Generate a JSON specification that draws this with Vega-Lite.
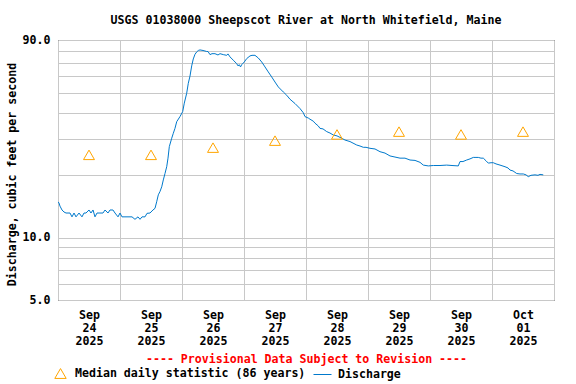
{
  "$schema": "https://vega.github.io/schema/vega-lite/v6.json",
  "width": 496,
  "height": 260,
  "autosize": {"type": "none"},
  "padding": {"left": 58, "top": 40, "right": 22, "bottom": 84},
  "background": "white",
  "title": {
    "text": "USGS 01038000 Sheepscot River at North Whitefield, Maine",
    "anchor": "middle",
    "font": "DejaVu Sans Mono",
    "fontSize": 11.6,
    "fontWeight": "bold",
    "color": "black",
    "offset": 7
  },
  "config": {
    "view": {"stroke": "black", "strokeWidth": 1},
    "axis": {
      "labelFont": "DejaVu Sans Mono",
      "labelFontSize": 11.6,
      "labelFontWeight": "bold",
      "labelColor": "black",
      "titleFont": "DejaVu Sans Mono",
      "titleFontSize": 11.6,
      "titleFontWeight": "bold",
      "titleColor": "black",
      "gridColor": "#c8c8c8",
      "gridWidth": 1,
      "ticks": false,
      "domain": false,
      "labelOverlap": false,
      "labelFlush": false
    },
    "legend": {
      "labelFont": "DejaVu Sans Mono",
      "labelFontSize": 11.6,
      "labelFontWeight": "bold",
      "labelColor": "black",
      "labelLimit": 400,
      "padding": 0
    }
  },
  "datasets": {
    "flow": [
      {"t":"2025-09-24T00:00Z","q":14.9},
      {"t":"2025-09-24T00:23Z","q":14.7},
      {"t":"2025-09-24T00:46Z","q":14.2},
      {"t":"2025-09-24T01:33Z","q":13.6},
      {"t":"2025-09-24T02:19Z","q":13.3},
      {"t":"2025-09-24T03:06Z","q":13.15},
      {"t":"2025-09-24T04:39Z","q":13.15},
      {"t":"2025-09-24T05:25Z","q":12.6},
      {"t":"2025-09-24T06:12Z","q":13.15},
      {"t":"2025-09-24T06:58Z","q":12.6},
      {"t":"2025-09-24T08:08Z","q":13.15},
      {"t":"2025-09-24T09:17Z","q":12.6},
      {"t":"2025-09-24T10:04Z","q":13.15},
      {"t":"2025-09-24T10:50Z","q":13.15},
      {"t":"2025-09-24T12:00Z","q":13.6},
      {"t":"2025-09-24T12:46Z","q":13.15},
      {"t":"2025-09-24T13:33Z","q":13.6},
      {"t":"2025-09-24T14:19Z","q":12.6},
      {"t":"2025-09-24T15:06Z","q":13.15},
      {"t":"2025-09-24T16:15Z","q":13.15},
      {"t":"2025-09-24T17:25Z","q":13.15},
      {"t":"2025-09-24T18:12Z","q":13.6},
      {"t":"2025-09-24T19:21Z","q":13.15},
      {"t":"2025-09-24T20:08Z","q":13.6},
      {"t":"2025-09-24T21:17Z","q":13.6},
      {"t":"2025-09-24T22:04Z","q":13.15},
      {"t":"2025-09-24T23:14Z","q":12.6},
      {"t":"2025-09-25T00:00Z","q":13.15},
      {"t":"2025-09-25T00:46Z","q":12.6},
      {"t":"2025-09-25T01:56Z","q":12.6},
      {"t":"2025-09-25T03:06Z","q":12.6},
      {"t":"2025-09-25T04:39Z","q":12.6},
      {"t":"2025-09-25T05:48Z","q":12.26},
      {"t":"2025-09-25T06:58Z","q":12.6},
      {"t":"2025-09-25T07:45Z","q":12.26},
      {"t":"2025-09-25T08:31Z","q":12.6},
      {"t":"2025-09-25T09:41Z","q":12.6},
      {"t":"2025-09-25T10:27Z","q":13.1},
      {"t":"2025-09-25T11:37Z","q":13.15},
      {"t":"2025-09-25T12:46Z","q":13.6},
      {"t":"2025-09-25T13:33Z","q":13.85},
      {"t":"2025-09-25T14:12Z","q":14.9},
      {"t":"2025-09-25T14:50Z","q":16.1},
      {"t":"2025-09-25T15:29Z","q":16.7},
      {"t":"2025-09-25T16:09Z","q":17.6},
      {"t":"2025-09-25T16:46Z","q":19.0},
      {"t":"2025-09-25T17:25Z","q":20.4},
      {"t":"2025-09-25T18:05Z","q":22.0},
      {"t":"2025-09-25T18:35Z","q":24.2},
      {"t":"2025-09-25T19:05Z","q":27.5},
      {"t":"2025-09-25T20:01Z","q":30.2},
      {"t":"2025-09-25T20:38Z","q":31.9},
      {"t":"2025-09-25T21:17Z","q":33.7},
      {"t":"2025-09-25T21:57Z","q":36.3},
      {"t":"2025-09-25T23:13Z","q":38.4},
      {"t":"2025-09-26T00:16Z","q":40.6},
      {"t":"2025-09-26T00:53Z","q":44.6},
      {"t":"2025-09-26T01:49Z","q":49.8},
      {"t":"2025-09-26T02:26Z","q":55.6},
      {"t":"2025-09-26T03:06Z","q":60.3},
      {"t":"2025-09-26T03:45Z","q":67.5},
      {"t":"2025-09-26T04:22Z","q":72.9},
      {"t":"2025-09-26T05:02Z","q":76.8},
      {"t":"2025-09-26T05:41Z","q":78.8},
      {"t":"2025-09-26T06:19Z","q":80.1},
      {"t":"2025-09-26T06:58Z","q":80.6},
      {"t":"2025-09-26T08:08Z","q":80.1},
      {"t":"2025-09-26T09:34Z","q":79.2},
      {"t":"2025-09-26T10:04Z","q":79.2},
      {"t":"2025-09-26T10:50Z","q":76.5},
      {"t":"2025-09-26T11:37Z","q":77.3},
      {"t":"2025-09-26T12:46Z","q":77.3},
      {"t":"2025-09-26T13:56Z","q":76.2},
      {"t":"2025-09-26T14:43Z","q":77.3},
      {"t":"2025-09-26T15:59Z","q":76.5},
      {"t":"2025-09-26T17:18Z","q":75.9},
      {"t":"2025-09-26T17:48Z","q":77.1},
      {"t":"2025-09-26T18:35Z","q":74.6},
      {"t":"2025-09-26T19:51Z","q":71.9},
      {"t":"2025-09-26T21:10Z","q":69.2},
      {"t":"2025-09-26T21:41Z","q":67.5},
      {"t":"2025-09-26T22:11Z","q":68.4},
      {"t":"2025-09-26T22:39Z","q":66.7},
      {"t":"2025-09-26T23:07Z","q":68.4},
      {"t":"2025-09-27T00:07Z","q":70.5},
      {"t":"2025-09-27T01:03Z","q":73.2},
      {"t":"2025-09-27T02:19Z","q":75.4},
      {"t":"2025-09-27T03:06Z","q":75.9},
      {"t":"2025-09-27T04:15Z","q":75.9},
      {"t":"2025-09-27T05:32Z","q":73.7},
      {"t":"2025-09-27T06:51Z","q":70.5},
      {"t":"2025-09-27T08:08Z","q":66.7},
      {"t":"2025-09-27T09:24Z","q":63.1},
      {"t":"2025-09-27T10:43Z","q":59.7},
      {"t":"2025-09-27T12:00Z","q":56.4},
      {"t":"2025-09-27T13:17Z","q":53.4},
      {"t":"2025-09-27T15:13Z","q":50.5},
      {"t":"2025-09-27T16:32Z","q":48.7},
      {"t":"2025-09-27T17:48Z","q":46.6},
      {"t":"2025-09-27T19:45Z","q":44.4},
      {"t":"2025-09-27T21:41Z","q":42.0},
      {"t":"2025-09-27T22:57Z","q":40.1},
      {"t":"2025-09-27T23:37Z","q":38.4},
      {"t":"2025-09-28T00:53Z","q":37.8},
      {"t":"2025-09-28T01:33Z","q":37.3},
      {"t":"2025-09-28T02:50Z","q":36.5},
      {"t":"2025-09-28T03:29Z","q":35.7},
      {"t":"2025-09-28T04:46Z","q":34.6},
      {"t":"2025-09-28T05:25Z","q":33.7},
      {"t":"2025-09-28T06:35Z","q":33.5},
      {"t":"2025-09-28T08:01Z","q":32.5},
      {"t":"2025-09-28T09:17Z","q":32.0},
      {"t":"2025-09-28T10:34Z","q":31.3},
      {"t":"2025-09-28T12:00Z","q":31.0},
      {"t":"2025-09-28T13:49Z","q":30.2},
      {"t":"2025-09-28T15:06Z","q":29.6},
      {"t":"2025-09-28T17:02Z","q":29.1},
      {"t":"2025-09-28T18:12Z","q":28.6},
      {"t":"2025-09-28T19:38Z","q":28.0},
      {"t":"2025-09-28T20:54Z","q":27.7},
      {"t":"2025-09-28T22:11Z","q":27.3},
      {"t":"2025-09-28T23:14Z","q":27.3},
      {"t":"2025-09-29T00:46Z","q":27.0},
      {"t":"2025-09-29T02:43Z","q":26.8},
      {"t":"2025-09-29T04:39Z","q":26.0},
      {"t":"2025-09-29T06:35Z","q":25.6},
      {"t":"2025-09-29T08:31Z","q":24.8},
      {"t":"2025-09-29T10:27Z","q":24.5},
      {"t":"2025-09-29T12:23Z","q":24.2},
      {"t":"2025-09-29T14:19Z","q":24.2},
      {"t":"2025-09-29T16:16Z","q":23.7},
      {"t":"2025-09-29T18:12Z","q":23.6},
      {"t":"2025-09-29T20:08Z","q":23.1},
      {"t":"2025-09-29T21:24Z","q":22.4},
      {"t":"2025-09-29T23:21Z","q":22.2},
      {"t":"2025-09-30T01:17Z","q":22.3},
      {"t":"2025-09-30T03:52Z","q":22.3},
      {"t":"2025-09-30T06:28Z","q":22.4},
      {"t":"2025-09-30T08:31Z","q":22.3},
      {"t":"2025-09-30T10:57Z","q":22.2},
      {"t":"2025-09-30T11:37Z","q":23.3},
      {"t":"2025-09-30T12:46Z","q":23.3},
      {"t":"2025-09-30T14:12Z","q":23.7},
      {"t":"2025-09-30T15:29Z","q":24.0},
      {"t":"2025-09-30T16:46Z","q":24.4},
      {"t":"2025-09-30T17:48Z","q":24.4},
      {"t":"2025-09-30T18:42Z","q":24.4},
      {"t":"2025-09-30T19:44Z","q":24.2},
      {"t":"2025-09-30T20:38Z","q":24.2},
      {"t":"2025-09-30T21:41Z","q":23.5},
      {"t":"2025-09-30T22:34Z","q":22.9},
      {"t":"2025-09-30T23:37Z","q":23.0},
      {"t":"2025-10-01T00:30Z","q":23.0},
      {"t":"2025-10-01T01:33Z","q":22.7},
      {"t":"2025-10-01T03:06Z","q":22.4},
      {"t":"2025-10-01T05:02Z","q":22.0},
      {"t":"2025-10-01T06:12Z","q":21.7},
      {"t":"2025-10-01T06:58Z","q":21.2},
      {"t":"2025-10-01T08:08Z","q":21.0},
      {"t":"2025-10-01T09:34Z","q":20.4},
      {"t":"2025-10-01T10:50Z","q":20.3},
      {"t":"2025-10-01T12:07Z","q":20.3},
      {"t":"2025-10-01T13:10Z","q":20.1},
      {"t":"2025-10-01T14:03Z","q":19.7},
      {"t":"2025-10-01T15:06Z","q":20.0},
      {"t":"2025-10-01T16:39Z","q":20.1},
      {"t":"2025-10-01T17:48Z","q":20.0},
      {"t":"2025-10-01T18:35Z","q":20.2},
      {"t":"2025-10-01T19:51Z","q":20.1}
    ],
    "median": [
      {"t":"2025-09-24T12:00Z","q":25.1},
      {"t":"2025-09-25T12:00Z","q":25.1},
      {"t":"2025-09-26T12:00Z","q":27.2},
      {"t":"2025-09-27T12:00Z","q":29.4},
      {"t":"2025-09-28T12:00Z","q":31.5},
      {"t":"2025-09-29T12:00Z","q":32.5},
      {"t":"2025-09-30T12:00Z","q":31.5},
      {"t":"2025-10-01T12:00Z","q":32.5}
    ]
  },
  "encoding": {
    "y": {
      "field": "q",
      "type": "quantitative",
      "scale": {"type": "log", "domain": [5, 90], "nice": false},
      "axis": {
        "title": "Discharge, cubic feet per second",
        "values": [5, 6, 7, 8, 9, 10, 20, 30, 40, 50, 60, 70, 80, 90],
        "labelExpr": "datum.value == 5 || datum.value == 10 || datum.value == 90 ? format(datum.value, '.1f') : ''",
        "labelPadding": 8,
        "titlePadding": 5,
        "titleY": 134
      }
    }
  },
  "resolve": {"axis": {"x": "independent"}},
  "layer": [
    {
      "data": {"name": "flow"},
      "mark": {"type": "line", "strokeWidth": 1, "clip": true},
      "encoding": {
        "x": {
          "field": "t",
          "type": "temporal",
          "scale": {
            "type": "utc",
            "domain": [
              {"year": 2025, "month": 9, "date": 24, "utc": true},
              {"year": 2025, "month": 10, "date": 2, "utc": true}
            ]
          },
          "axis": {
            "orient": "bottom",
            "title": null,
            "labels": false,
            "grid": true,
            "values": [
              {"year": 2025, "month": 9, "date": 24, "utc": true},
              {"year": 2025, "month": 9, "date": 25, "utc": true},
              {"year": 2025, "month": 9, "date": 26, "utc": true},
              {"year": 2025, "month": 9, "date": 27, "utc": true},
              {"year": 2025, "month": 9, "date": 28, "utc": true},
              {"year": 2025, "month": 9, "date": 29, "utc": true},
              {"year": 2025, "month": 9, "date": 30, "utc": true},
              {"year": 2025, "month": 10, "date": 1, "utc": true},
              {"year": 2025, "month": 10, "date": 2, "utc": true}
            ]
          }
        },
        "stroke": {
          "datum": "Discharge",
          "scale": {"range": ["#0079CC"]},
          "legend": {
            "title": null,
            "orient": "none",
            "legendX": 255,
            "legendY": 325,
            "labelOffset": 6,
            "symbolSize": 324,
            "symbolStrokeWidth": 1,
            "symbolStrokeColor": "#0079CC"
          }
        }
      }
    },
    {
      "data": {"name": "median"},
      "mark": {"type": "point", "shape": "triangle-up", "filled": false, "size": 120, "strokeWidth": 1, "opacity": 1},
      "encoding": {
        "x": {
          "field": "t",
          "type": "temporal",
          "axis": {
            "orient": "bottom",
            "title": "---- Provisional Data Subject to Revision ----",
            "titleColor": "#FF0000",
            "titlePadding": 7,
            "grid": false,
            "values": [
              {"year": 2025, "month": 9, "date": 24, "hours": 12, "utc": true},
              {"year": 2025, "month": 9, "date": 25, "hours": 12, "utc": true},
              {"year": 2025, "month": 9, "date": 26, "hours": 12, "utc": true},
              {"year": 2025, "month": 9, "date": 27, "hours": 12, "utc": true},
              {"year": 2025, "month": 9, "date": 28, "hours": 12, "utc": true},
              {"year": 2025, "month": 9, "date": 29, "hours": 12, "utc": true},
              {"year": 2025, "month": 9, "date": 30, "hours": 12, "utc": true},
              {"year": 2025, "month": 10, "date": 1, "hours": 12, "utc": true}
            ],
            "labelExpr": "[utcFormat(datum.value, '%b'), utcFormat(datum.value, '%d'), utcFormat(datum.value, '%Y')]",
            "labelPadding": 9,
            "labelLineHeight": 13
          }
        },
        "color": {
          "datum": "Median daily statistic (86 years)",
          "scale": {"range": ["#FFA500"]},
          "legend": {
            "title": null,
            "orient": "none",
            "legendX": -4,
            "legendY": 327,
            "labelOffset": 8,
            "symbolSize": 130,
            "symbolStrokeWidth": 1
          }
        },
        "shape": {
          "datum": "Median daily statistic (86 years)",
          "scale": {"range": ["triangle-up"]}
        }
      }
    }
  ]
}
